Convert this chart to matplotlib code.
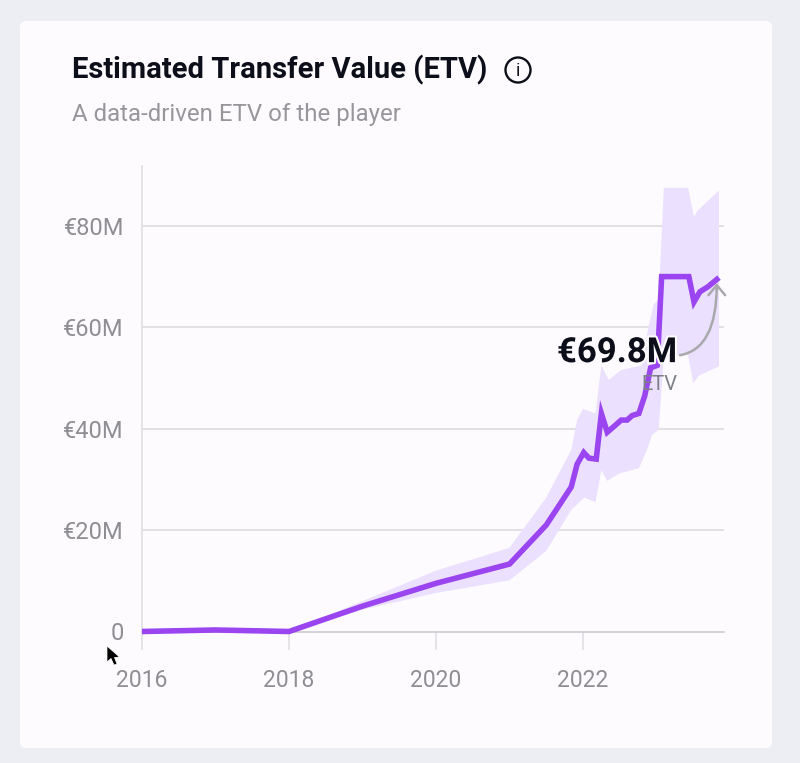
from __future__ import annotations

import matplotlib
import matplotlib.patheffects as pe
import matplotlib.pyplot as plt
from matplotlib.patches import Circle, FancyBboxPatch, Polygon

matplotlib.use('Agg')

plt.rcParams['font.family'] = ['Roboto', 'DejaVu Sans']

# Values (year, millions of euro)
line_years = [2016, 2017, 2018, 2019, 2020, 2021, 2021.5, 2021.84, 2021.92, 2022.01, 2022.08,
              2022.18, 2022.25, 2022.33, 2022.41, 2022.52, 2022.6, 2022.67, 2022.76,
              2022.84, 2022.92, 2023.01, 2023.07, 2023.44, 2023.51, 2023.59, 2023.7,
              2023.85]
line_values = [0, 0.3, 0, 5.0, 9.5, 13.3, 21, 28.5, 33, 35.3, 34.2,
               34, 43, 39.3, 40.3, 41.7, 41.7, 42.6, 43,
               46.5, 52, 52.5, 70, 70, 65, 67, 68,
               69.8]

upper_years = [2018, 2019, 2020, 2021, 2021.5, 2021.84, 2021.92, 2022.0, 2022.17, 2022.25, 2022.35,
               2022.52, 2022.8, 2022.89, 2022.96, 2023.03, 2023.1, 2023.43, 2023.51,
               2023.56, 2023.85]
upper_values = [0, 6, 12, 16.5, 26.4, 35.8, 41.7, 43.9, 43, 52.5, 49.6,
                51.6, 52.5, 60, 64.5, 65.5, 87.5, 87.5, 81.8,
                83, 87]

lower_years = [2018, 2019, 2020, 2021, 2021.5, 2021.84, 2022.02, 2022.17, 2022.25, 2022.33, 2022.5,
               2022.76, 2022.87, 2022.94, 2023.03, 2023.1, 2023.43, 2023.5, 2023.58,
               2023.85]
lower_values = [0, 4.3, 7.6, 10.1, 15.9, 24, 26.4, 25.5, 31.8, 29.7, 31.2,
                32.2, 35.8, 38.8, 39.8, 54.5, 54.5, 49, 50.5,
                52.3]

y_ticks = [0, 20, 40, 60, 80]
y_labels = ['0', '€20M', '€40M', '€60M', '€80M']
x_ticks = [2016, 2018, 2020, 2022]

PURPLE = '#9b45f0'
BAND = '#ebe0fd'
CARD = '#fdfbfe'
GREY_TEXT = '#8e8e93'
DARK = '#0c0f1a'
W, H = 800, 763


def main() -> None:
    fig = plt.figure(figsize=(W / 100, H / 100), dpi=100, facecolor='#eceef3')

    # card behind everything, positioned in pixels
    fig.patches.append(FancyBboxPatch(
        (20 / W, 1 - 748 / H), 752 / W, 727 / H,
        boxstyle=f'round,pad=0,rounding_size={6 / W}',
        transform=fig.transFigure, facecolor=CARD, edgecolor='none',
        mutation_aspect=W / H, zorder=-5,
    ))

    left, right, top, bottom = 142, 724, 166, 631.5
    ax = fig.add_axes([left / W, 1 - bottom / H, (right - left) / W, (bottom - top) / H])
    ax.patch.set_alpha(0)
    ax.set_xlim(2016, 2016 + (right - left) / 73.5)
    ax.set_ylim(0, (bottom - top) / 5.07)

    ax.fill(upper_years + lower_years[::-1], upper_values + lower_values[::-1],
            color=BAND, lw=0, zorder=2)
    ax.plot(line_years, line_values, color=PURPLE, lw=4, solid_joinstyle='miter',
            solid_capstyle='butt', zorder=3, clip_on=False)

    for spine in ('top', 'right'):
        ax.spines[spine].set_visible(False)
    ax.spines['left'].set_color('#dddce0')
    ax.spines['left'].set_linewidth(1.1)
    ax.spines['bottom'].set_color('#c9c8cd')
    ax.spines['bottom'].set_linewidth(1.1)

    ax.set_yticks(y_ticks)
    ax.set_yticklabels(y_labels)
    ax.set_xticks(x_ticks)
    ax.set_xticklabels([str(x) for x in x_ticks])
    ax.tick_params(axis='y', length=0, pad=13, labelsize=17, labelcolor=GREY_TEXT)
    ax.tick_params(axis='x', length=13, width=1.1, color='#dddce0', pad=14,
                   labelsize=16.5, labelcolor=GREY_TEXT)
    for tick in y_ticks[1:]:
        ax.axhline(tick, color='#dddbe0', lw=1.2, zorder=1)

    ax.annotate('', xy=(2023.82, 68.7), xytext=(2023.32, 54.5),
                arrowprops=dict(arrowstyle='->,head_width=0.3,head_length=0.36',
                                color='#a9a9ad', lw=1.8, mutation_scale=20,
                                connectionstyle='angle3,angleA=10,angleB=90',
                                shrinkA=0, shrinkB=0),
                zorder=4)
    ax.text(2023.28, 55, '€69.8M', ha='right', va='center', fontsize=25, fontweight='bold',
            color=DARK, zorder=5,
            path_effects=[pe.withStroke(linewidth=3, foreground=CARD)])
    ax.text(2023.29, 48.8, 'ETV', ha='right', va='center', fontsize=14.5, color='#7d7f88',
            zorder=5)

    # header
    fig.text(72 / W, 1 - 69.5 / H, 'Estimated Transfer Value (ETV)', ha='left', va='center',
             fontsize=21, fontweight='bold', color=DARK)
    fig.text(72 / W, 1 - 114 / H, 'A data-driven ETV of the player', ha='left', va='center',
             fontsize=17.3, color='#97979b')

    # overlay in pixel coordinates: info icon and the mouse pointer
    overlay = fig.add_axes([0, 0, 1, 1])
    overlay.set_xlim(0, W)
    overlay.set_ylim(H, 0)
    overlay.axis('off')
    overlay.add_patch(Circle((518, 70), 12.5, fill=False, edgecolor=DARK, lw=1.7))
    overlay.text(518, 70.5, 'i', ha='center', va='center', fontsize=13, color=DARK)
    overlay.add_patch(Polygon(
        [(107, 646), (107, 662), (111, 658.5), (114, 665), (117, 664), (114.5, 657.5), (119.5, 657)],
        closed=True, facecolor='black', edgecolor='white', lw=0.5,
    ))

    fig.savefig('out.png', dpi=100, facecolor=fig.get_facecolor())
    plt.close(fig)


if __name__ == '__main__':
    main()
